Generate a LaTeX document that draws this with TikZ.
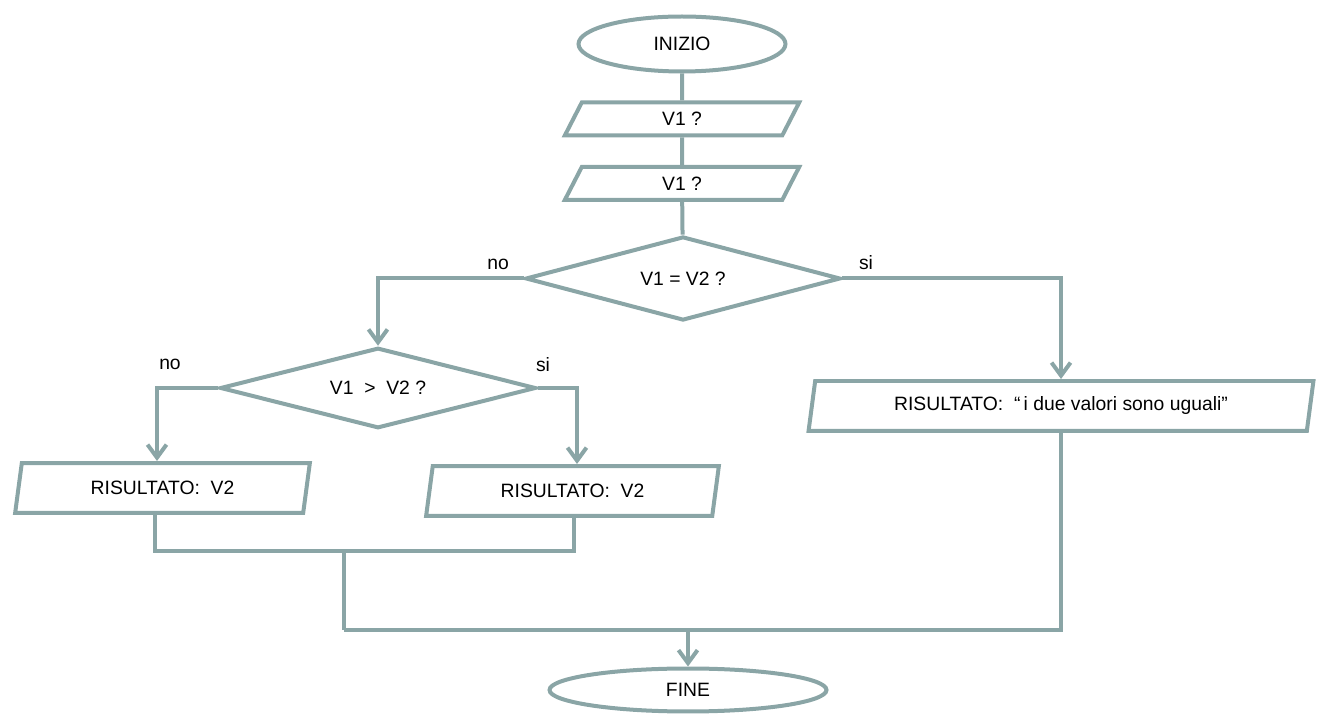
\documentclass[tikz,border=0pt]{standalone}
\usepackage{fontspec}
\setmainfont{Liberation Sans}
\usetikzlibrary{shapes.geometric,arrows.meta}
\definecolor{fc}{RGB}{138,165,166}
\begin{document}
\begin{tikzpicture}[x=0.02cm,y=-0.02cm,
  every node/.style={font=\fontsize{11}{13}\selectfont, text=black},
  ln/.style={draw=fc, line width=0.08cm},
  term/.style={ln, ellipse, inner sep=0pt},
  io/.style={ln, trapezium, trapezium left angle=76, trapezium right angle=104,
     trapezium stretches=true, inner sep=0pt},
  dec/.style={ln, diamond, inner sep=0pt},
  con/.style={draw=fc, line width=0.08cm},
  arr/.style={con, -{Straight Barb[length=0.26cm,width=0.38cm,line width=0.08cm]}},
  lbl/.style={inner sep=0pt}]
\useasboundingbox (0,0) rectangle (1319,715);

\node[term, minimum width=4.14cm, minimum height=1.1cm] (inizio) at (682,44) {INIZIO};
\node[io, minimum width=4.7cm, minimum height=0.66cm] (p1) at (682,119) {V1 ?};
\node[io, minimum width=4.7cm, minimum height=0.66cm] (p2) at (682,183.5) {V1 ?};
\node[dec, shape aspect=3.8, minimum width=6.3cm, minimum height=1.68cm] (d1) at (683,278.5) {V1 = V2 ?};
\node[dec, shape aspect=3.95, minimum width=6.32cm, minimum height=1.61cm] (d2) at (378,388) {V1 \ > \ V2 ?};
\node[io, minimum width=5.94cm, minimum height=1.0cm] (p3) at (162.5,488) {RISULTATO: \ V2};
\node[io, minimum width=5.9cm, minimum height=1.0cm] (p4) at (572.5,491) {RISULTATO: \ V2};
\node[io, minimum width=10.1cm, minimum height=1.0cm] (p5) at (1061,406) {RISULTATO: \ ``\,i due valori sono uguali''};
\node[term, minimum width=5.54cm, minimum height=0.86cm] (fine) at (688,690) {FINE};

\node[lbl] (l1) at (498,264) {no};
\node[lbl] (l2) at (866,263) {si};
\node[lbl] (l3) at (170,364) {no};
\node[lbl] (l4) at (543,365) {si};

\coordinate (j1) at (344,551);
\coordinate (j2) at (344,630);

\draw[con] (inizio) -- (p1);
\draw[con] (p1) -- (p2);
\draw[con] (p2) -- (d1);
\draw[arr] (d1.west) -| (d2.north);
\draw[arr] (d1.east) -| (p5.north);
\draw[arr] (d2.west) -| ([xshift=-0.11cm]p3.north);
\draw[arr] (d2.east) -| ([xshift=0.09cm]p4.north);
\draw[con] ([xshift=-0.15cm]p3.south) |- (j1) -| ([xshift=0.03cm]p4.south);
\draw[con] (j1) -- (j2);
\draw[con] (p5.south) |- (j2);
\draw[arr] (fine.north |- j2) -- (fine.north);
\end{tikzpicture}
\end{document}
